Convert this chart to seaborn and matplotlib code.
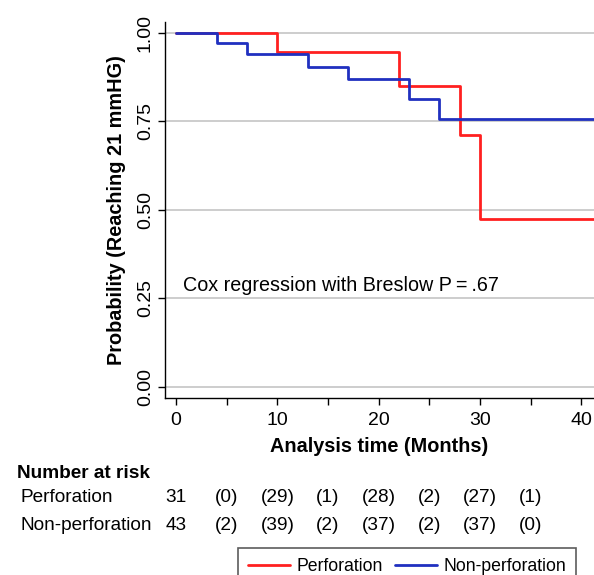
import matplotlib
matplotlib.use("Agg")
import matplotlib.pyplot as plt
import matplotlib.transforms as mtransforms
from matplotlib.lines import Line2D
import pandas as pd
import seaborn as sns

# Kaplan-Meier steps
perf_time = [0, 10, 22, 28, 30, 41.5]
perf_surv = [1.0, 0.946, 0.849, 0.711, 0.474, 0.474]
nonperf_time = [0, 4, 7, 13, 17, 23, 26, 41.5]
nonperf_surv = [1.0, 0.970, 0.939, 0.904, 0.868, 0.812, 0.755, 0.755]

groups = ["Perforation", "Non-perforation"]
colors = ["#ff2020", "#2030c0"]

# number at risk table
risk_times = [0, 5, 10, 15, 20, 25, 30, 35]
perf_risk = ["31", "(0)", "(29)", "(1)", "(28)", "(2)", "(27)", "(1)"]
nonperf_risk = ["43", "(2)", "(39)", "(2)", "(37)", "(2)", "(37)", "(0)"]

df = pd.concat([
    pd.DataFrame({"t": perf_time, "s": perf_surv, "g": groups[0]}),
    pd.DataFrame({"t": nonperf_time, "s": nonperf_surv, "g": groups[1]}),
])

sns.set_style("white")
plt.rcParams["font.family"] = ["Liberation Sans", "DejaVu Sans"]
plt.rcParams["text.color"] = "black"
plt.rcParams["axes.labelcolor"] = "black"
plt.rcParams["xtick.color"] = "black"
plt.rcParams["ytick.color"] = "black"

fig = plt.figure(figsize=(5.94, 5.75), dpi=100)
ax = fig.add_axes([165 / 594, 1 - 398 / 575, 1 - 165 / 594, (398 - 22) / 575])

for ylev in [0, 0.25, 0.5, 0.75, 1.0]:
    ax.axhline(ylev, color="#c0c0c0", lw=1.1, zorder=0)

sns.lineplot(data=df, x="t", y="s", hue="g", palette=dict(zip(groups, colors)),
             drawstyle="steps-post", estimator=None, lw=2, ax=ax, legend=False)

ax.set_xlim(-1.09, 41.26)
ax.set_ylim(-0.032, 1.03)
ax.set_xticks([0, 10, 20, 30, 40])
ax.set_xticks([5, 15, 25, 35], minor=True)
ax.set_yticks([0, 0.25, 0.5, 0.75, 1.0])
ax.set_yticklabels(["0.00", "0.25", "0.50", "0.75", "1.00"], rotation=90, va="center")
ax.tick_params(axis="both", which="both", direction="out", length=5, width=1,
               color="black", labelsize=14, bottom=True, left=True)
ax.tick_params(axis="x", pad=5)
ax.tick_params(axis="y", pad=3)
for side in ["top", "right"]:
    ax.spines[side].set_visible(False)
for side in ["left", "bottom"]:
    ax.spines[side].set_color("black")
    ax.spines[side].set_linewidth(1)

ax.set_xlabel("Analysis time (Months)", fontsize=14.3, fontweight="bold", labelpad=6)
ax.set_ylabel("Probability (Reaching 21 mmHG)", fontsize=14.3, fontweight="bold", labelpad=8)

ax.text(0.7, 0.287, "Cox regression with Breslow P\u2009=\u2009.67", fontsize=14.2,
        ha="left", va="center")

# number at risk
fig.text(17 / 594, 1 - 473 / 575, "Number at risk", fontsize=13.7,
         fontweight="bold", ha="left", va="center")
fig.text(21 / 594, 1 - 498 / 575, groups[0], fontsize=13.7, ha="left", va="center")
fig.text(21 / 594, 1 - 526 / 575, groups[1], fontsize=13.7, ha="left", va="center")
trans = mtransforms.blended_transform_factory(ax.transData, fig.transFigure)
for t, a, b in zip(risk_times, perf_risk, nonperf_risk):
    ax.text(t, 1 - 498 / 575, a, transform=trans, fontsize=13.7, ha="center", va="center")
    ax.text(t, 1 - 526 / 575, b, transform=trans, fontsize=13.7, ha="center", va="center")

handles = [Line2D([], [], color=c, lw=2) for c in colors]
leg = fig.legend(handles, groups, loc="upper left", bbox_to_anchor=(238 / 594, 1 - 548 / 575),
                 ncol=2, fontsize=12.7, frameon=True, fancybox=False,
                 edgecolor="#333333", handlelength=2.4, handletextpad=0.35,
                 columnspacing=0.7, borderpad=0.55, borderaxespad=0)
leg.get_frame().set_linewidth(1.2)

fig.savefig("out.png", dpi=100)
